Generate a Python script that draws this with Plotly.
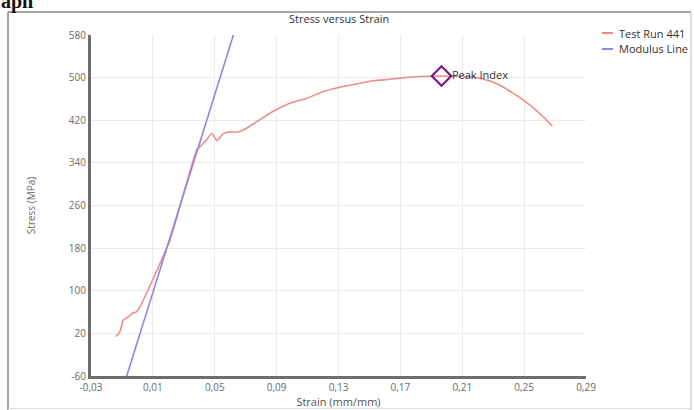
import plotly.graph_objects as go

# Test Run 441 (strain mm/mm, stress MPa)
strain = [-0.0140, -0.0113, -0.0091, -0.0059, -0.0037, -0.0005, 0.0017, 0.0210,
          0.0383, 0.0404, 0.0447, 0.0480, 0.0516, 0.0555, 0.0600, 0.0650, 0.0695,
          0.0770, 0.0878, 0.0986, 0.1093, 0.1201, 0.1309, 0.1416, 0.1524, 0.1632,
          0.1730, 0.1825, 0.1966, 0.2105, 0.2213, 0.2321, 0.2428, 0.2536, 0.2622,
          0.2682]
stress = [14, 23, 45, 51, 57, 61, 70, 195,
          364, 370, 383, 395, 382, 395, 398, 398, 403,
          417, 437, 452, 461, 474, 482, 488, 494, 497,
          500, 502, 503, 502, 499, 489, 471, 449, 427,
          409]

# Modulus line end points
mod_strain = [-0.0069, 0.0624]
mod_stress = [-60, 583]

# Peak point
peak_strain = [0.1966]
peak_stress = [503]
peak_label = ["Peak Index"]

xticks = [-0.03, 0.01, 0.05, 0.09, 0.13, 0.17, 0.21, 0.25, 0.29]
xtick_text = ["-0,03", "0,01", "0,05", "0,09", "0,13", "0,17", "0,21", "0,25", "0,29"]
yticks = [-60, 20, 100, 180, 260, 340, 420, 500, 580]
ytick_text = ["-60", "20", "100", "180", "260", "340", "420", "500", "580"]

RED = "#ec8d8d"
BLUE = "#8f88dc"
FONT = "Open Sans"

fig = go.Figure()
fig.add_trace(go.Scatter(x=strain, y=stress, mode="lines", name="Test Run 441",
                         line=dict(color=RED, width=1.6, shape="spline", smoothing=0.5),
                         showlegend=False))
fig.add_trace(go.Scatter(x=mod_strain, y=mod_stress, mode="lines", name="Modulus Line",
                         line=dict(color=BLUE, width=1.6), showlegend=False))
fig.add_trace(go.Scatter(x=peak_strain, y=peak_stress, mode="markers+text",
                         text=peak_label, textposition="middle right",
                         textfont=dict(family=FONT, size=11, color="#333333"),
                         marker=dict(symbol="diamond-open", size=15, color="#7d1780",
                                     line=dict(width=2.2, color="#7d1780")),
                         showlegend=False))

W, H = 694, 410
L, R, T, B = 91, 108, 35, 34
PW, PH = W - L - R, H - T - B

def px(x):
    return (x - L) / PW

def py(y):
    return (H - B - y) / PH

FRAME_TOP = 12

shapes = [
    # screenshot frame
    dict(type="line", xref="paper", yref="paper", x0=px(8), x1=px(8), y0=py(FRAME_TOP), y1=py(412),
         line=dict(color="#8a8a8a", width=1.5)),
    dict(type="line", xref="paper", yref="paper", x0=px(8), x1=px(691), y0=py(FRAME_TOP), y1=py(FRAME_TOP),
         line=dict(color="#8a8a8a", width=1.5)),
    dict(type="line", xref="paper", yref="paper", x0=px(691), x1=px(691), y0=py(FRAME_TOP), y1=py(412),
         line=dict(color="#bdbdbd", width=1)),
    dict(type="line", xref="paper", yref="paper", x0=px(8), x1=px(691), y0=py(408.5), y1=py(408.5),
         line=dict(color="#dddddd", width=1)),
    # legend symbols
    dict(type="line", xref="paper", yref="paper", x0=px(602), x1=px(613), y0=py(33), y1=py(33),
         line=dict(color=RED, width=2)),
    dict(type="line", xref="paper", yref="paper", x0=px(602), x1=px(613), y0=py(49), y1=py(49),
         line=dict(color=BLUE, width=2)),
]

annotations = [
    dict(text="Test Run 441", xref="paper", yref="paper", x=px(617), y=py(33),
         xanchor="left", yanchor="middle", showarrow=False,
         font=dict(family=FONT, size=11, color="#333333")),
    dict(text="Modulus Line", xref="paper", yref="paper", x=px(617), y=py(49),
         xanchor="left", yanchor="middle", showarrow=False,
         font=dict(family=FONT, size=11, color="#333333")),
    dict(text="<b>aph</b>", xref="paper", yref="paper", x=px(-1), y=py(1),
         xanchor="left", yanchor="middle", showarrow=False,
         font=dict(family="Liberation Serif", size=20, color="#111111")),
    dict(text="Stress versus Strain", xref="paper", yref="paper", x=0.5, y=py(18),
         xanchor="center", yanchor="middle", showarrow=False,
         font=dict(family=FONT, size=11, color="#333333")),
]

fig.update_layout(
    width=W, height=H,
    margin=dict(l=L, r=R, t=T, b=B, autoexpand=False),
    paper_bgcolor="white", plot_bgcolor="white",
    font=dict(family=FONT, size=10, color="#6b6b6b"),
    shapes=shapes, annotations=annotations,
    showlegend=False,
)
fig.update_xaxes(range=[-0.03, 0.29], tickvals=xticks, ticktext=xtick_text,
                 showgrid=True, gridcolor="#ebebeb", gridwidth=1,
                 showline=True, linecolor="#6e6e6e", linewidth=3,
                 zeroline=False, ticks="", tickfont=dict(size=10, color="#6b6b6b"),
                 title=dict(text="Strain (mm/mm)", standoff=0,
                            font=dict(size=11, color="#555555")),
                 automargin=False)
fig.update_yaxes(range=[-60, 580], tickvals=yticks, ticktext=ytick_text,
                 showgrid=True, gridcolor="#ebebeb", gridwidth=1,
                 showline=True, linecolor="#6e6e6e", linewidth=3,
                 zeroline=False, ticks="", tickfont=dict(size=10, color="#6b6b6b"),
                 title=dict(text="Stress (MPa)", standoff=32,
                            font=dict(size=10, color="#6b6b6b")),
                 automargin=False)

fig.write_html("out.html")
